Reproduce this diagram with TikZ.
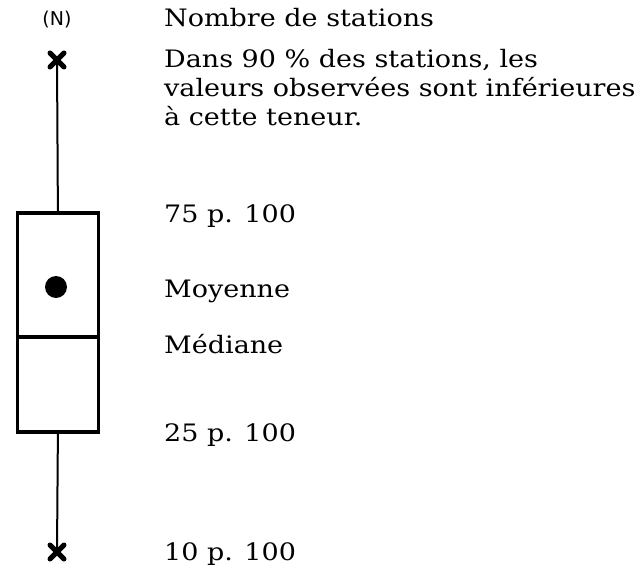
\documentclass[tikz,border=0pt]{standalone}
\usepackage{fontspec}
\usepackage{graphicx}
\usetikzlibrary{calc}
\setmainfont{DejaVu Serif}
\newfontfamily\labelsans{DejaVu Sans}
\newcommand{\widetext}[1]{\scalebox{1.125}[1]{#1}}
\begin{document}
\begin{tikzpicture}[x=1pt,y=-1pt,
  lbl/.style={anchor=base west,inner sep=0pt,font=\fontsize{24}{28}\selectfont},
  whisker/.style={line width=2pt},
  boxline/.style={line width=3.8pt},
  crossmark/.style={line width=5pt,line cap=round}]
\useasboundingbox (0,0) rectangle (641,567);
% marks
\coordinate (ctop) at (57,60);
\coordinate (cbot) at (57,552);
\node[draw,boxline,minimum width=81pt,minimum height=219pt,inner sep=0pt,anchor=north west] (box) at (15.5,211) {};
\coordinate (med) at (0,337);
% whiskers
\draw[whisker] (ctop) -- (box.north);
\draw[whisker] (box.south) -- (cbot);
% crosses
\draw[crossmark] ($(ctop)+(-7,-7)$) -- ($(ctop)+(7,7)$) ($(ctop)+(-7,7)$) -- ($(ctop)+(7,-7)$);
\draw[crossmark] ($(cbot)+(-7,-7)$) -- ($(cbot)+(7,7)$) ($(cbot)+(-7,7)$) -- ($(cbot)+(7,-7)$);
% median
\draw[boxline] (box.west |- med) -- (box.east |- med);
% mean
\fill (56,287) circle (11);
% labels
\node[anchor=base,inner sep=0pt,font=\labelsans\fontsize{19}{22}\selectfont] (nlab) at (57,26) {(N)};
\node[lbl] (t1) at (164,27) {\widetext{Nombre de stations}};
\node[lbl] (t2) at (164,68) {\widetext{Dans 90 \% des stations, les}};
\node[lbl] (t3) at (164,97) {\widetext{valeurs observées sont inférieures}};
\node[lbl] (t4) at (164,126) {\widetext{à cette teneur.}};
\node[lbl] (q75) at (164,223) {\widetext{75 p. 100}};
\node[lbl] (moy) at (164,298) {\widetext{Moyenne}};
\node[lbl] (medl) at (164,353) {\widetext{Médiane}};
\node[lbl] (q25) at (164,441) {\widetext{25 p. 100}};
\node[lbl] (q10) at (164,560) {\widetext{10 p. 100}};
\end{tikzpicture}
\end{document}
